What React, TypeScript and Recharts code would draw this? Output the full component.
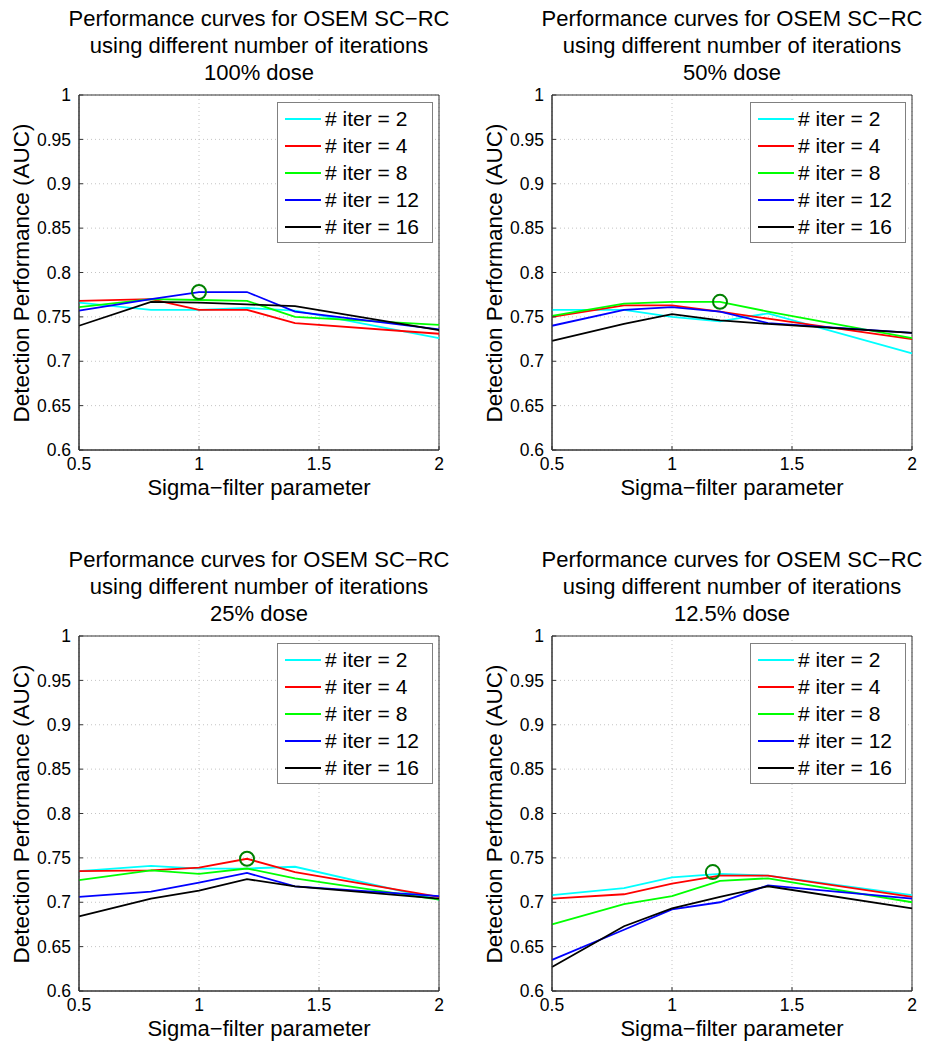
import React from 'react';
import { LineChart, Line, XAxis, YAxis, CartesianGrid, ReferenceDot, ReferenceArea, Legend } from 'recharts';

// sigma-filter values where AUC was measured
const SIGMA = [0.5, 0.8, 1.0, 1.2, 1.4, 2.0];
const ITERATIONS = [2, 4, 8, 12, 16];
const DOSES = ['100%', '50%', '25%', '12.5%'];

// rows follow ITERATIONS, columns follow SIGMA
const AUC_100 = [
  [0.766, 0.758, 0.758, 0.76, 0.757, 0.726],
  [0.768, 0.77, 0.758, 0.758, 0.743, 0.731],
  [0.761, 0.77, 0.769, 0.768, 0.75, 0.741],
  [0.757, 0.77, 0.778, 0.778, 0.756, 0.736],
  [0.74, 0.767, 0.766, 0.764, 0.762, 0.735],
];
const AUC_50 = [
  [0.758, 0.758, 0.75, 0.745, 0.754, 0.709],
  [0.75, 0.763, 0.763, 0.756, 0.748, 0.725],
  [0.751, 0.765, 0.767, 0.767, 0.756, 0.726],
  [0.74, 0.758, 0.761, 0.756, 0.743, 0.732],
  [0.723, 0.742, 0.753, 0.746, 0.742, 0.732],
];
const AUC_25 = [
  [0.735, 0.741, 0.738, 0.738, 0.74, 0.703],
  [0.735, 0.736, 0.739, 0.749, 0.734, 0.706],
  [0.725, 0.736, 0.732, 0.738, 0.727, 0.703],
  [0.706, 0.712, 0.722, 0.733, 0.718, 0.707],
  [0.684, 0.704, 0.713, 0.726, 0.718, 0.704],
];
const AUC_12 = [
  [0.708, 0.716, 0.728, 0.732, 0.73, 0.708],
  [0.704, 0.709, 0.721, 0.73, 0.73, 0.706],
  [0.675, 0.698, 0.707, 0.724, 0.727, 0.7],
  [0.635, 0.669, 0.692, 0.7, 0.719, 0.704],
  [0.627, 0.673, 0.693, 0.706, 0.718, 0.693],
];
const AUC_BY_DOSE = [AUC_100, AUC_50, AUC_25, AUC_12];

// optimum marked with a circle in each panel
const BEST_SIGMA = [1.0, 1.2, 1.2, 1.17];
const BEST_AUC = [0.778, 0.767, 0.749, 0.734];

const X_TICKS = [0.5, 1, 1.5, 2];
const Y_TICKS = [0.6, 0.65, 0.7, 0.75, 0.8, 0.85, 0.9, 0.95, 1];

const LINE_COLORS = ['#00ffff', '#ff0000', '#00ff00', '#0000ff', '#000000'];
const FONT = '"Liberation Sans", Arial, Helvetica, sans-serif';

const W = 465;
const H = 500;
const PLOT_LEFT = 79;
const PLOT_TOP = 95;
const PLOT_W = 360;
const PLOT_H = 355;

const LegendBox = () => (
  <div style={{ border: '1px solid #808080', background: '#fff', width: 154, padding: '2px 0', fontFamily: FONT }}>
    {ITERATIONS.map((n, i) => (
      <div key={n} style={{ display: 'flex', alignItems: 'center', height: 27 }}>
        <div style={{ width: 36, height: 2, background: LINE_COLORS[i], marginLeft: 7, marginRight: 4 }} />
        <span style={{ fontSize: 21, color: '#000', whiteSpace: 'nowrap' }}># iter = {n}</span>
      </div>
    ))}
  </div>
);

const Panel: React.FC<{ idx: number; left: number; top: number }> = ({ idx, left, top }) => {
  const auc = AUC_BY_DOSE[idx];
  const data = SIGMA.map((s, j) => {
    const row: Record<string, number> = { sigma: s };
    ITERATIONS.forEach((n, i) => {
      row['it' + n] = auc[i][j];
    });
    return row;
  });

  return (
    <div style={{ position: 'absolute', left, top, width: W, height: H, fontFamily: FONT }}>
      <div style={{ position: 'absolute', left: PLOT_LEFT - 40, width: PLOT_W + 80, top: 5, textAlign: 'center', fontSize: 22, lineHeight: '27px', color: '#000' }}>
        <div>Performance curves for OSEM SC−RC</div>
        <div>using different number of iterations</div>
        <div>{DOSES[idx]} dose</div>
      </div>
      <LineChart
        width={W}
        height={H}
        data={data}
        margin={{ top: PLOT_TOP, left: PLOT_LEFT - 60, right: W - PLOT_LEFT - PLOT_W, bottom: H - PLOT_TOP - PLOT_H - 30 }}
      >
        <CartesianGrid strokeDasharray="1 3" stroke="#c4c4c4" />
        <XAxis
          dataKey="sigma"
          type="number"
          domain={[0.5, 2]}
          ticks={X_TICKS}
          height={30}
          tickSize={-4}
          tickMargin={12}
          tickLine={{ stroke: '#333' }}
          axisLine={{ stroke: '#333' }}
          tick={{ fontSize: 17.5, fill: '#000', fontFamily: FONT }}
        />
        <YAxis
          type="number"
          domain={[0.6, 1]}
          ticks={Y_TICKS}
          width={60}
          tickSize={-4}
          tickMargin={12}
          tickLine={{ stroke: '#333' }}
          axisLine={{ stroke: '#333' }}
          tick={{ fontSize: 17.5, fill: '#000', fontFamily: FONT }}
        />
        <ReferenceArea x1={0.5} x2={2} y1={0.6} y2={1} fill="none" stroke="#333" strokeWidth={1} />
        {ITERATIONS.map((n, i) => (
          <Line
            key={n}
            dataKey={'it' + n}
            stroke={LINE_COLORS[i]}
            strokeWidth={1.8}
            dot={false}
            isAnimationActive={false}
          />
        ))}
        <ReferenceDot x={BEST_SIGMA[idx]} y={BEST_AUC[idx]} r={7} fill="none" stroke="#008000" strokeWidth={2} />
        <Legend
          layout="vertical"
          align="center"
          verticalAlign="middle"
          content={() => <LegendBox />}
          wrapperStyle={{ top: PLOT_TOP + 7, left: PLOT_LEFT + PLOT_W - 162, width: 156, height: 139 }}
        />
      </LineChart>
      <div style={{ position: 'absolute', left: PLOT_LEFT, width: PLOT_W, top: 475, textAlign: 'center', fontSize: 22, lineHeight: '26px', color: '#000' }}>
        Sigma−filter parameter
      </div>
      <div
        style={{
          position: 'absolute',
          left: 22 - 200,
          top: PLOT_TOP + PLOT_H / 2 - 13,
          width: 400,
          height: 26,
          lineHeight: '26px',
          textAlign: 'center',
          fontSize: 22.5,
          color: '#000',
          transform: 'rotate(-90deg)',
        }}
      >
        Detection Performance (AUC)
      </div>
    </div>
  );
};

export default function App() {
  return (
    <div style={{ position: 'absolute', left: 0, top: 0, width: 938, height: 1050, background: '#fff', overflow: 'hidden' }}>
      <Panel idx={0} left={0} top={0} />
      <Panel idx={1} left={473} top={0} />
      <Panel idx={2} left={0} top={541} />
      <Panel idx={3} left={473} top={541} />
    </div>
  );
}
